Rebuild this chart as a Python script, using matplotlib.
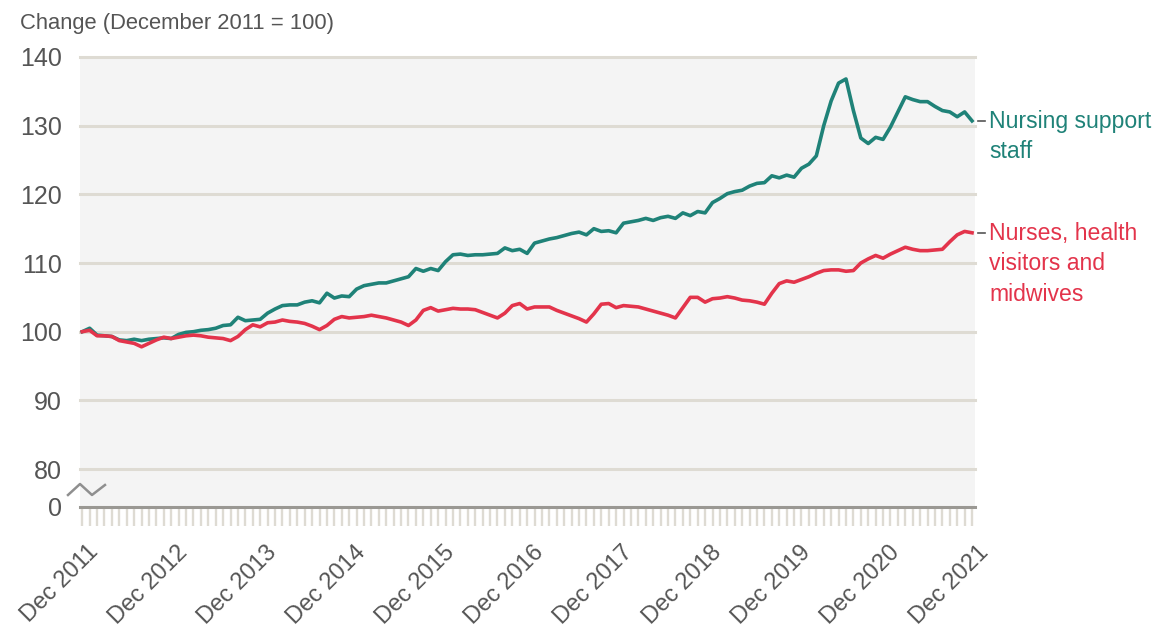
######## Nursing staff change index ########

import numpy as np
import matplotlib.pyplot as plt
import matplotlib.transforms as mtransforms

plt.rcParams['font.family'] = ['Liberation Sans', 'DejaVu Sans']

### Datos ###
# Monthly values, Dec 2011 .. Dec 2021 (Dec 2011 = 100)
support = [100.0, 100.5, 99.5, 99.4, 99.3, 98.8, 98.7, 98.9, 98.7, 98.9,
           99.0, 99.1, 99.0, 99.6, 99.9, 100.0, 100.2, 100.3, 100.5, 100.9,
           101.0, 102.1, 101.6, 101.7, 101.8, 102.7, 103.3, 103.8, 103.9, 103.9,
           104.3, 104.5, 104.2, 105.6, 104.9, 105.2, 105.1, 106.2, 106.7, 106.9,
           107.1, 107.1, 107.4, 107.7, 108.0, 109.2, 108.8, 109.2, 108.9, 110.2,
           111.2, 111.3, 111.1, 111.2, 111.2, 111.3, 111.4, 112.2, 111.8, 112.0,
           111.4, 112.9, 113.2, 113.5, 113.7, 114.0, 114.3, 114.5, 114.1, 115.0,
           114.6, 114.7, 114.4, 115.8, 116.0, 116.2, 116.5, 116.2, 116.6, 116.8,
           116.5, 117.3, 116.9, 117.5, 117.3, 118.8, 119.4, 120.1, 120.4, 120.6,
           121.2, 121.6, 121.7, 122.7, 122.4, 122.8, 122.5, 123.8, 124.4, 125.6,
           130.0, 133.6, 136.2, 136.8, 132.2, 128.2, 127.4, 128.3, 128.0, 129.8,
           132.0, 134.2, 133.8, 133.5, 133.5, 132.8, 132.2, 132.0, 131.3, 132.0,
           130.7]
nurses = [100.0, 100.2, 99.4, 99.4, 99.3, 98.7, 98.5, 98.3, 97.8, 98.3,
          98.8, 99.2, 99.0, 99.2, 99.4, 99.5, 99.4, 99.2, 99.1, 99.0,
          98.7, 99.3, 100.3, 101.0, 100.7, 101.3, 101.4, 101.7, 101.5, 101.4,
          101.2, 100.8, 100.3, 100.9, 101.8, 102.2, 102.0, 102.1, 102.2, 102.4,
          102.2, 102.0, 101.7, 101.4, 100.9, 101.7, 103.1, 103.5, 103.0, 103.2,
          103.4, 103.3, 103.3, 103.2, 102.8, 102.4, 102.0, 102.7, 103.8, 104.1,
          103.3, 103.6, 103.6, 103.6, 103.1, 102.7, 102.3, 101.9, 101.4, 102.6,
          104.0, 104.1, 103.5, 103.8, 103.7, 103.6, 103.3, 103.0, 102.7, 102.4,
          102.0, 103.5, 105.0, 105.0, 104.3, 104.8, 104.9, 105.1, 104.9, 104.6,
          104.5, 104.3, 104.0, 105.6, 107.0, 107.4, 107.2, 107.6, 108.0, 108.5,
          108.9, 109.0, 109.0, 108.8, 108.9, 110.0, 110.6, 111.1, 110.7, 111.3,
          111.8, 112.3, 112.0, 111.8, 111.8, 111.9, 112.0, 113.1, 114.1, 114.6,
          114.4]
years = ['Dec 2011', 'Dec 2012', 'Dec 2013', 'Dec 2014', 'Dec 2015', 'Dec 2016',
         'Dec 2017', 'Dec 2018', 'Dec 2019', 'Dec 2020', 'Dec 2021']
ytick_vals = [80, 90, 100, 110, 120, 130, 140]

### Colores ###
c_support = '#1f8278'
c_nurses = '#e3344b'
c_grid = '#dedbd3'
c_text = '#555555'

months = np.arange(len(support))
base = 74.47  # position of the broken "0"

fig = plt.figure(figsize=(11.57, 6.28), dpi=100)
ax = fig.add_axes([80/1157, 121/628, 895/1157, 450/628])
ax.set_facecolor('#f4f4f4')
ax.set_xlim(-0.3, 120.4)
ax.set_ylim(base, 140)

for v in ytick_vals:
    ax.axhline(v, color=c_grid, lw=2.2, zorder=1, clip_on=False)

ax.plot(months, support, color=c_support, lw=2.6, zorder=3)
ax.plot(months, nurses, color=c_nurses, lw=2.6, zorder=3)

for s in ['top', 'right', 'left']:
    ax.spines[s].set_visible(False)
ax.spines['bottom'].set_color('#9a9893')
ax.spines['bottom'].set_linewidth(2.2)
ax.spines['bottom'].set_zorder(4)

# Ejes
ax.set_yticks([base] + ytick_vals, ['0'] + [str(v) for v in ytick_vals])
ax.tick_params(axis='y', length=0, pad=13, labelsize=18, labelcolor=c_text)
ax.set_xticks(months[::12], years, rotation=45, ha='right', rotation_mode='anchor')
ax.set_xticks(months, minor=True)
ax.tick_params(axis='x', which='both', length=14, width=1.7, color=c_grid,
               labelsize=17, labelcolor=c_text, pad=4)
off = mtransforms.ScaledTranslation(5/100, -9/100, fig.dpi_scale_trans)
for lab in ax.get_xticklabels():
    lab.set_transform(lab.get_transform() + off)

# Corte del eje
ax.plot([-0.0134, 0, 0.0134, 0.0279], [0.0267, 0.0511, 0.0267, 0.0489],
        transform=ax.transAxes, clip_on=False, color='#8f8f8f', lw=1.8, zorder=5)

# Etiquetas de las series
for serie, color, texto in [(support, c_support, 'Nursing support\nstaff'),
                            (nurses, c_nurses, 'Nurses, health\nvisitors and\nmidwives')]:
    ax.plot([120.8, 121.7], [serie[-1], serie[-1]], color=c_text, lw=1.2, clip_on=False)
    ax.annotate(texto, xy=(122.3, serie[-1]), xytext=(0, 8), textcoords='offset points',
                va='top', ha='left', fontsize=16.6, color=color, linespacing=1.42,
                annotation_clip=False)

fig.text(20/1157, 1 - 23/628, 'Change (December 2011 = 100)', va='center', ha='left',
         fontsize=15.8, color=c_text)

plt.savefig('out.png', dpi=100)
